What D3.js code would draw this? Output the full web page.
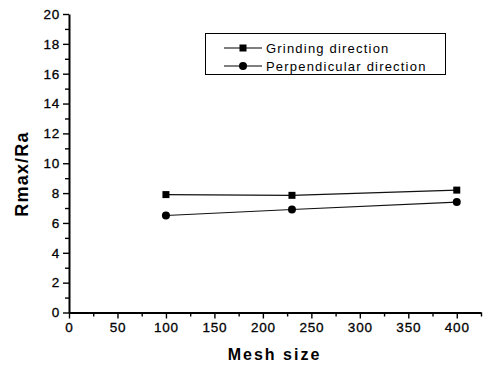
<!DOCTYPE html>
<html>
<head>
<meta charset="utf-8">
<script src="https://cdn.jsdelivr.net/npm/d3@7"></script>
<style>
  body { margin: 0; background: #fff; }
  text { font-family: "Liberation Sans", Arial, sans-serif; }
</style>
</head>
<body>
<div class="chart"></div>
<script>
// data
var meshSize = [100, 230, 400];
var grinding = [7.9, 7.85, 8.2];
var perpendicular = [6.5, 6.9, 7.4];
var seriesNames = ["Grinding direction", "Perpendicular direction"];
var xTicks = [0, 50, 100, 150, 200, 250, 300, 350, 400];
var yTicks = [0, 2, 4, 6, 8, 10, 12, 14, 16, 18, 20];

var svgWidth = 491, svgHeight = 367;
var margin = { top: 14, left: 69, right: 10, bottom: 54 };
var width = 481 - margin.left;
var height = 312.5 - margin.top;

var svg = d3.select(".chart").append("svg")
  .attr("width", svgWidth)
  .attr("height", svgHeight);

var chartGroup = svg.append("g")
  .attr("transform", `translate(${margin.left}, ${margin.top})`);

var xScale = d3.scaleLinear().domain([0, 425]).range([0, width]);
var yScale = d3.scaleLinear().domain([0, 20]).range([height, 0]);

// minor ticks
chartGroup.append("g")
  .attr("transform", `translate(0, ${height})`)
  .call(d3.axisBottom(xScale).tickValues(d3.range(25, 426, 50)).tickSize(4).tickFormat(""))
  .call(g => g.select(".domain").remove());
chartGroup.append("g")
  .call(d3.axisLeft(yScale).tickValues(d3.range(1, 20, 2)).tickSize(4).tickFormat(""))
  .call(g => g.select(".domain").remove());

chartGroup.append("g")
  .attr("transform", `translate(0, ${height})`)
  .call(d3.axisBottom(xScale).tickValues(xTicks).tickSize(6).tickSizeOuter(0).tickPadding(4));
chartGroup.append("g")
  .call(d3.axisLeft(yScale).tickValues(yTicks).tickSize(6).tickSizeOuter(0).tickPadding(3));

chartGroup.selectAll(".tick line").attr("stroke", "#000").attr("stroke-width", 1.4);
chartGroup.selectAll(".domain").attr("stroke", "#000").attr("stroke-width", 2);
chartGroup.selectAll(".tick text")
  .style("font-size", "13.5px")
  .style("letter-spacing", "0.8px")
  .attr("fill", "#000")
  .attr("stroke", "#000")
  .attr("stroke-width", 0.3);

// lines
var series = [grinding, perpendicular];
var line = d3.line()
  .x((d, i) => xScale(meshSize[i]))
  .y(d => yScale(d));

series.forEach(function(s) {
  chartGroup.append("path")
    .attr("d", line(s))
    .attr("fill", "none")
    .attr("stroke", "#111")
    .attr("stroke-width", 1.2);
});

chartGroup.selectAll(".sq")
  .data(grinding)
  .enter()
  .append("rect")
  .attr("x", (d, i) => xScale(meshSize[i]) - 3.5)
  .attr("y", d => yScale(d) - 3.5)
  .attr("width", 7)
  .attr("height", 7)
  .attr("fill", "#000");

chartGroup.selectAll(".ci")
  .data(perpendicular)
  .enter()
  .append("circle")
  .attr("cx", (d, i) => xScale(meshSize[i]))
  .attr("cy", d => yScale(d))
  .attr("r", 4)
  .attr("fill", "#000");

// legend
var legend = svg.append("g");
legend.append("rect")
  .attr("x", 205.5).attr("y", 33.5)
  .attr("width", 240).attr("height", 41)
  .attr("fill", "none")
  .attr("stroke", "#000")
  .attr("stroke-width", 1);

seriesNames.forEach(function(name, i) {
  var ly = 48 + i * 18;
  legend.append("line")
    .attr("x1", 224).attr("x2", 262)
    .attr("y1", ly).attr("y2", ly)
    .attr("stroke", "#000").attr("stroke-width", 1.2);
  if (i === 0) {
    legend.append("rect").attr("x", 239.5).attr("y", ly - 3.5)
      .attr("width", 7).attr("height", 7).attr("fill", "#000");
  } else {
    legend.append("circle").attr("cx", 243).attr("cy", ly).attr("r", 4).attr("fill", "#000");
  }
  legend.append("text")
    .attr("x", 266).attr("y", ly + 5)
    .style("font-size", "13px")
    .style("letter-spacing", "1.2px")
    .text(name);
});

// axis titles
svg.append("text")
  .attr("x", margin.left + xScale(212))
  .attr("y", 360)
  .attr("text-anchor", "middle")
  .style("font-size", "16px")
  .style("font-weight", "bold")
  .style("letter-spacing", "2px")
  .text("Mesh size");

svg.append("text")
  .attr("transform", "translate(28, 174) rotate(-90)")
  .attr("text-anchor", "middle")
  .style("font-size", "18px")
  .style("font-weight", "bold")
  .style("letter-spacing", "1.2px")
  .text("Rmax/Ra");
</script>
</body>
</html>
